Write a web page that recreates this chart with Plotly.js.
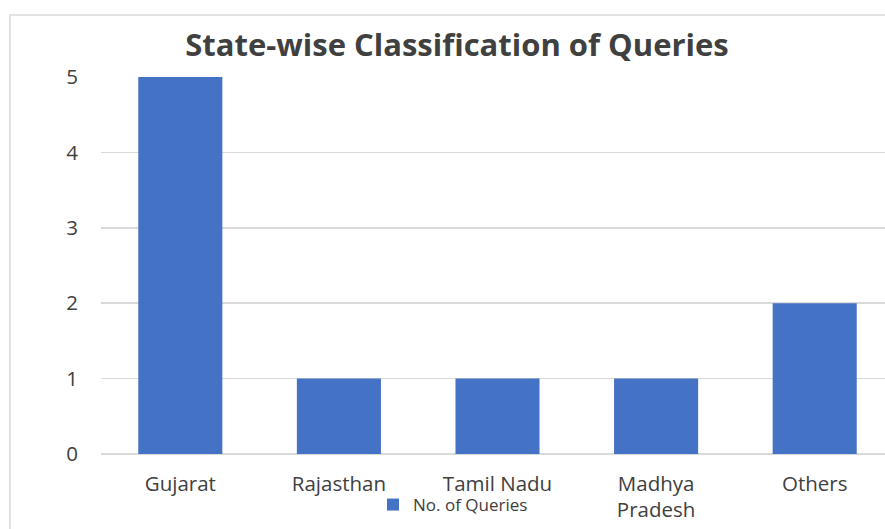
<!DOCTYPE html>
<html>
<head>
<meta charset="utf-8">
<script src="https://cdn.plot.ly/plotly-3.0.1.min.js"></script>
<style>
html,body{margin:0;padding:0;background:#fff;overflow:hidden;}
#chart{width:894px;height:529px;}
</style>
</head>
<body>
<div id="chart"></div>
<script>
var categories = ["Gujarat", "Rajasthan", "Tamil Nadu", "Madhya<br>Pradesh", "Others"];
var queries = [5, 1, 1, 1, 2];
var seriesName = "No. of Queries";
var chartTitle = "State-wise Classification of Queries";
var yTicks = [0, 1, 2, 3, 4, 5];

var font = "'Open Sans', 'Noto Sans', sans-serif";
var trace = {
  type: "bar",
  x: categories,
  y: queries,
  name: seriesName,
  marker: {color: "#4472C4"},
  showlegend: true,
  hoverinfo: "x+y"
};

var layout = {
  width: 894,
  height: 529,
  margin: {l: 101, r: 0, t: 77, b: 75},
  paper_bgcolor: "#ffffff",
  plot_bgcolor: "#ffffff",
  font: {family: font, color: "#404040", size: 20},
  title: {
    text: "<b>" + chartTitle + "</b>",
    font: {family: font, size: 31, color: "#404040"},
    x: 457 / 894, xanchor: "center",
    y: 1 - 45 / 529, yanchor: "middle"
  },
  bargap: 0.47,
  xaxis: {
    type: "category",
    showgrid: false,
    showline: false,
    zeroline: false,
    ticks: "",
    ticklabelstandoff: 15,
    tickfont: {size: 20.5, color: "#404040"},
    automargin: false
  },
  yaxis: {
    range: [0, 5],
    tickvals: yTicks,
    ticktext: yTicks.map(String),
    showgrid: true,
    gridcolor: "#d9d9d9",
    gridwidth: 1.5,
    zeroline: true,
    zerolinecolor: "#d9d9d9",
    zerolinewidth: 1.5,
    showline: false,
    ticks: "",
    ticklabelstandoff: 22,
    tickfont: {size: 20.5, color: "#404040"},
    automargin: false
  },
  legend: {
    orientation: "h",
    x: (373 - 101) / 793, xanchor: "left",
    y: (454 - 505) / 377, yanchor: "middle",
    font: {size: 17, color: "#404040"},
    bgcolor: "rgba(0,0,0,0)"
  },
  shapes: [{
    type: "rect", xref: "paper", yref: "paper",
    x0: (10 - 101) / 793, x1: (900 - 101) / 793,
    y0: (454 - 540) / 377, y1: (454 - 15) / 377,
    line: {color: "#d9d9d9", width: 1.5},
    fillcolor: "rgba(0,0,0,0)",
    layer: "below"
  }]
};

Plotly.newPlot("chart", [trace], layout, {displayModeBar: false, staticPlot: true});
</script>
</body>
</html>
